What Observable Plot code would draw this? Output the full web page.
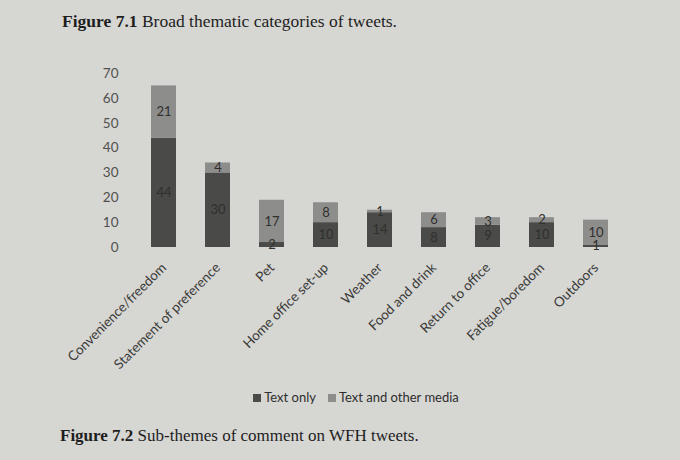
<!DOCTYPE html>
<html>
<head>
<meta charset="utf-8">
<script src="https://cdn.jsdelivr.net/npm/d3@7"></script>
<script src="https://cdn.jsdelivr.net/npm/@observablehq/plot@0.6"></script>
<style>
  html, body { margin: 0; padding: 0; }
  body { width: 680px; height: 460px; background: #d6d6d3; position: relative; overflow: hidden; font-family: Lato, "Open Sans", sans-serif; }
  .fig { position: absolute; left: 62px; font-family: "Liberation Serif", "DejaVu Serif", serif; color: #1e1e1e; white-space: nowrap; }
  .fig b { font-weight: bold; }
  #title { top: 11px; font-size: 17.5px; }
  #chart { position: absolute; left: 0; top: 55px; }
  #legend { position: absolute; top: 389px; left: 0; width: 712px; text-align: center; font-size: 13px; color: #2e2e2e; }
  #legend span { margin: 0 6px; }
  #legend i { display: inline-block; width: 8px; height: 8px; margin-right: 3px; vertical-align: 0px; }
  #caption { top: 426px; left: 60px; font-size: 17px; }
</style>
</head>
<body>
<div id="title" class="fig"><b>Figure 7.1</b> Broad thematic categories of tweets.</div>
<div id="chart"></div>
<div id="legend"></div>
<div id="caption" class="fig"><b>Figure 7.2</b> Sub-themes of comment on WFH tweets.</div>
<script>
const categories = ["Convenience/freedom", "Statement of preference", "Pet", "Home office set-up", "Weather", "Food and drink", "Return to office", "Fatigue/boredom", "Outdoors"];
const seriesNames = ["Text only", "Text and other media"];
const textOnly = [44, 30, 2, 10, 14, 8, 9, 10, 1];
const textOther = [21, 4, 17, 8, 1, 6, 3, 2, 10];
const yTicks = [0, 10, 20, 30, 40, 50, 60, 70];
const colors = ["#4a4a48", "#8d8d8b"];

const data = [];
categories.forEach((c, i) => {
  data.push({category: c, series: seriesNames[0], value: textOnly[i]});
  data.push({category: c, series: seriesNames[1], value: textOther[i]});
});

const chart = Plot.plot({
  width: 680,
  height: 322,
  marginTop: 18,
  marginBottom: 130,
  marginLeft: 136,
  marginRight: 57,
  style: {background: "transparent", fontFamily: "Lato, 'Open Sans', sans-serif"},
  x: {domain: categories, paddingInner: 0.53, paddingOuter: 0.25, label: null},
  y: {domain: [0, 70], ticks: yTicks, label: null},
  color: {domain: seriesNames, range: colors},
  marks: [
    Plot.gridY(yTicks, {stroke: "#b4b4b1", strokeOpacity: 1, x1: 133, x2: 638}),
    Plot.barY(data, {x: "category", y: "value", fill: "series"}),
    Plot.text(data, Plot.stackY({x: "category", y: "value", z: "series", text: d => String(d.value), fill: "#30302e", fontSize: 13})),
    Plot.axisY({ticks: yTicks, tickSize: 0, tickPadding: 18, fontSize: 13.5, fill: "#50504e", label: null}),
    Plot.axisX({tickSize: 0, tickRotate: -45, tickPadding: 18, fontSize: 13.5, fill: "#3a3a38", label: null})
  ]
});
document.getElementById("chart").appendChild(chart);

const legend = document.getElementById("legend");
seriesNames.forEach((s, i) => {
  const span = document.createElement("span");
  const sw = document.createElement("i");
  sw.style.background = colors[i];
  span.appendChild(sw);
  span.appendChild(document.createTextNode(s));
  legend.appendChild(span);
});
</script>
</body>
</html>
